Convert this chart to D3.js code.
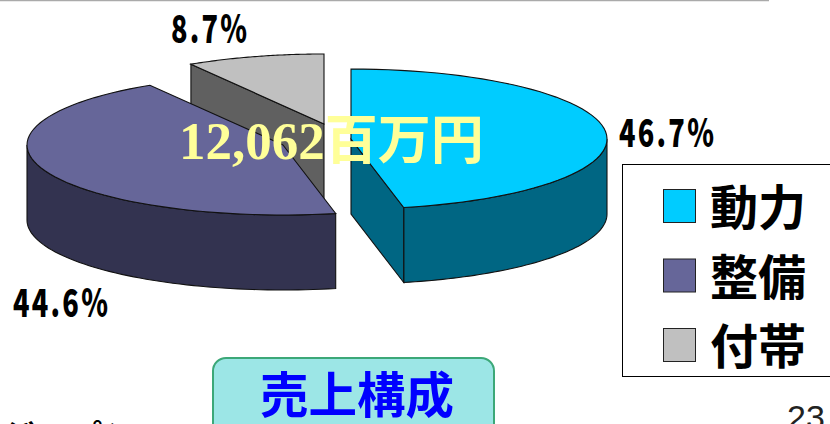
<!DOCTYPE html>
<meta charset="utf-8">
<style>
  html, body { margin: 0; padding: 0; background: #fff; overflow: hidden; }
  svg { display: block; }
  text { font-family: "Noto Sans CJK JP", sans-serif; }
</style>
<script src="https://cdnjs.cloudflare.com/ajax/libs/d3/7.8.5/d3.min.js"></script>
<div id="chart"></div>
<script>

// chart values
var categories = ["動力", "整備", "付帯"];
var shares = [46.7, 44.6, 8.7];
var shareLabels = ["46.7%", "44.6%", "8.7%"];
var topColors = ["#00ccff", "#666699", "#c0c0c0"];
var sideColors = ["#006683", "#333350", "#606060"];
var totalNumber = "12,062";
var totalUnit = "百万円";
var caption = "売上構成";
var pageNumber = "23";
var clippedText = "ジャパン";

var width = 830, height = 424;
var rx = 256, ry = 70, depth = 75;

var svg = d3.select("#chart").append("svg")
  .attr("width", width)
  .attr("height", height);

// line at the top of the slide
svg.append("line")
  .attr("x1", 0).attr("x2", 769)
  .attr("y1", 0.5).attr("y2", 0.5)
  .attr("stroke", "#aaaaaa")
  .attr("stroke-width", 1.5);

var pie = d3.pie().sort(null).value(function(d) { return d; });
var arcs = pie(shares);

// each slice is pulled out, so each has its own centre
var centres = [[351, 139], [283, 145], [324, 124]];

var line = d3.line();

function rim(cx, cy, a0, a1) {
  var pts = d3.range(0, 61).map(function(i) {
    var a = a0 + (a1 - a0) * i / 60;
    return [cx + rx * Math.sin(a), cy - ry * Math.cos(a)];
  });
  return pts;
}

function drawSlice(i) {
  var a = arcs[i], c = centres[i];
  var g = svg.append("g");
  var stroke = { stroke: "#111", "stroke-width": 1.1 };

  // outer wall, only the part that faces the viewer
  var from = Math.max(a.startAngle, Math.PI / 2);
  var to = Math.min(a.endAngle, 3 * Math.PI / 2);
  if (to > from) {
    var upper = rim(c[0], c[1], from, to);
    var lower = upper.map(function(p) { return [p[0], p[1] + depth]; }).reverse();
    g.append("path")
      .attr("d", line(upper.concat(lower)) + "Z")
      .attr("fill", sideColors[i])
      .attr("stroke", stroke.stroke)
      .attr("stroke-width", stroke["stroke-width"]);
  }

  // cut face that looks towards the viewer
  var cutAngle = i === 0 ? a.endAngle : (i === 2 ? a.startAngle : null);
  if (cutAngle !== null) {
    var edge = rim(c[0], c[1], cutAngle, cutAngle)[0];
    g.append("path")
      .attr("d", line([c, edge, [edge[0], edge[1] + depth], [c[0], c[1] + depth]]) + "Z")
      .attr("fill", sideColors[i])
      .attr("stroke", stroke.stroke)
      .attr("stroke-width", stroke["stroke-width"]);
  }

  // top surface
  g.append("path")
    .attr("d", line([c].concat(rim(c[0], c[1], a.startAngle, a.endAngle))) + "Z")
    .attr("fill", topColors[i])
    .attr("stroke", stroke.stroke)
    .attr("stroke-width", stroke["stroke-width"]);
}

// back slice first
[2, 1, 0].forEach(drawSlice);

// percent labels
function tallText(x, y, sx, sy, str, size) {
  return svg.append("text")
    .attr("transform", "translate(" + x + "," + y + ") scale(" + sx + "," + sy + ")")
    .attr("font-size", size)
    .attr("font-weight", 900)
    .attr("letter-spacing", 2.6)
    .attr("fill", "#000")
    .text(str);
}
var labelPos = [[619, 147], [13, 317], [171, 43]];
shareLabels.forEach(function(s, i) {
  tallText(labelPos[i][0], labelPos[i][1], 0.875, 1.24, s, 31);
});

// total in the middle of the pie
var total = svg.append("text")
  .attr("x", 179).attr("y", 159)
  .attr("fill", "#ffff99")
  .attr("font-weight", 700);
total.append("tspan")
  .style("font-family", "'Liberation Serif', serif")
  .attr("font-size", 53)
  .text(totalNumber);
total.append("tspan")
  .attr("font-size", 53)
  .text(totalUnit);

// legend
var legend = svg.append("g");
legend.append("rect")
  .attr("x", 622.5).attr("y", 164.5)
  .attr("width", 220).attr("height", 212)
  .attr("fill", "#fff")
  .attr("stroke", "#000")
  .attr("stroke-width", 1);

var legendY = d3.scalePoint()
  .domain(categories)
  .range([206, 345]);

categories.forEach(function(name, i) {
  var y = legendY(name);
  legend.append("rect")
    .attr("x", 663.5).attr("y", y - 16.5)
    .attr("width", 32).attr("height", 33)
    .attr("fill", topColors[i])
    .attr("stroke", "#222")
    .attr("stroke-width", 1);
  legend.append("text")
    .attr("x", 710).attr("y", y + 19)
    .attr("font-size", 48)
    .attr("font-weight", 700)
    .text(name);
});

// caption box
svg.append("rect")
  .attr("x", 213).attr("y", 358)
  .attr("width", 281).attr("height", 80)
  .attr("rx", 13)
  .attr("fill", "#9ce6e6")
  .attr("stroke", "#3ca878")
  .attr("stroke-width", 2);
svg.append("text")
  .attr("x", 357).attr("y", 413)
  .attr("text-anchor", "middle")
  .attr("font-size", 48.5)
  .attr("font-weight", 700)
  .attr("fill", "#0000ff")
  .text(caption);

// text cut off by the bottom of the slide
svg.append("text")
  .attr("x", 2).attr("y", 449)
  .attr("font-size", 34)
  .attr("font-weight", 700)
  .attr("fill", "#000")
  .text(clippedText);

svg.append("text")
  .attr("x", 806).attr("y", 429)
  .attr("text-anchor", "middle")
  .attr("font-size", 34)
  .attr("fill", "#222")
  .style("font-family", "'Liberation Sans', sans-serif")
  .text(pageNumber);

</script>
